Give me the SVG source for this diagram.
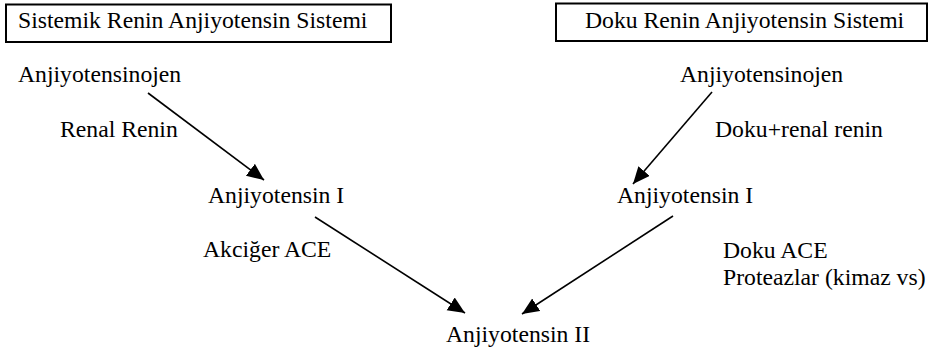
<svg xmlns="http://www.w3.org/2000/svg" width="930" height="354" viewBox="0 0 930 354">
<style>
text{font-family:"Liberation Serif","Times New Roman",serif;font-size:23.7px;fill:#000}
.box{fill:#fff;stroke:#000;stroke-width:2}
.conn line{stroke:#000;stroke-width:1.6}
</style>
<defs>
<marker id="ah" markerUnits="userSpaceOnUse" markerWidth="18" markerHeight="16" refX="17" refY="7.5" orient="auto">
<path d="M0,0 L17,7.5 L0,15 z" fill="#000"/>
</marker>
</defs>
<rect width="930" height="354" fill="#fff"/>
<g id="title-systemic">
<rect class="box" x="6" y="4.5" width="385" height="37.5"/>
<text x="18" y="28">Sistemik Renin Anjiyotensin Sistemi</text>
</g>
<g id="title-tissue">
<rect class="box" x="556" y="3.5" width="371" height="37.5"/>
<text x="585" y="28">Doku Renin Anjiyotensin Sistemi</text>
</g>
<g id="agt-left"><text x="18" y="82">Anjiyotensinojen</text></g>
<g id="agt-right"><text x="680" y="82">Anjiyotensinojen</text></g>
<g id="ang1-left"><text x="208" y="203">Anjiyotensin I</text></g>
<g id="ang1-right"><text x="617" y="203">Anjiyotensin I</text></g>
<g id="ang2"><text x="446" y="342">Anjiyotensin II</text></g>
<g id="labels">
<text x="60" y="137">Renal Renin</text>
<text x="715" y="137">Doku+renal renin</text>
<text x="203" y="257">Akciğer ACE</text>
<text x="723" y="258">Doku ACE</text>
<text x="723" y="285">Proteazlar (kimaz vs)</text>
</g>
<g id="connectors" class="conn">
<line x1="148" y1="93" x2="264" y2="180" marker-end="url(#ah)"/>
<line x1="712" y1="92" x2="633" y2="184" marker-end="url(#ah)"/>
<line x1="315" y1="217" x2="465" y2="313" marker-end="url(#ah)"/>
<line x1="673" y1="216" x2="522" y2="314" marker-end="url(#ah)"/>
</g>
</svg>
